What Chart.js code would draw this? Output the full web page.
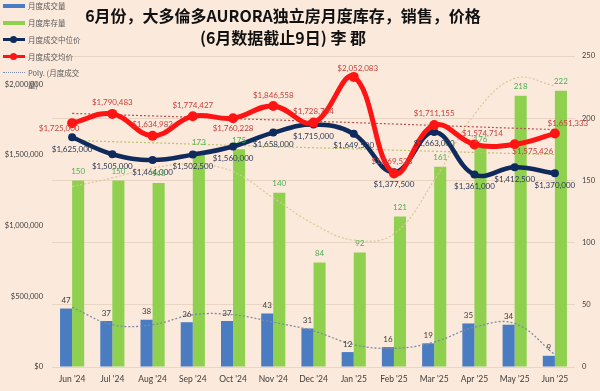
<!DOCTYPE html>
<html>
<head>
<meta charset="utf-8">
<script src="https://cdn.jsdelivr.net/npm/chart.js@4.4.1/dist/chart.umd.min.js"></script>
<style>
html,body{margin:0;padding:0;background:#fbe9db;}
#wrap{position:relative;width:600px;height:391px;overflow:hidden;background:#fbe9db;}
#c{position:absolute;left:0;top:0;}
#title{position:absolute;left:0;top:4px;width:566px;text-align:center;font-family:"Noto Sans CJK SC","Noto Sans",sans-serif;font-weight:bold;font-size:16px;line-height:22px;color:#111;}
#legend{position:absolute;left:3px;top:0;width:90px;height:95px;font-family:"Noto Sans CJK SC","Noto Sans",sans-serif;font-size:7.5px;line-height:11px;color:#595959;}
.li{position:absolute;left:0;width:90px;}
.sw{position:absolute;left:0;width:22px;}
.tx{position:absolute;left:25px;width:70px;white-space:nowrap;}
.dot{position:absolute;border-radius:50%;}
</style>
</head>
<body>
<div id="wrap">
  <canvas id="c" width="600" height="391"></canvas>
  <div id="title">6月份，大多倫多AURORA独立房月度库存，销售，价格<br>(6月数据截止9日) 李 郡</div>
  <div id="legend"></div>
</div>
<script>
// ---------- data ----------
const categories = ["Jun '24","Jul '24","Aug '24","Sep '24","Oct '24","Nov '24","Dec '24","Jan '25","Feb '25","Mar '25","Apr '25","May '25","Jun '25"];
const salesVolume = [47,37,38,36,37,43,31,12,16,19,35,34,9];
const inventory = [150,150,148,173,175,140,84,92,121,161,176,218,222];
const medianPrice = [1625000,1505000,1464000,1502500,1560000,1658000,1715000,1649500,1377500,1663000,1361000,1412500,1370000];
const avgPrice = [1725000,1790483,1634982,1774427,1760228,1846558,1728734,2052083,1369533,1711155,1574714,1575426,1651333];
// trend lines
const volumeTrend = [48,34,34,42,42,36,29,18,15,20,32,35,10];
const inventoryTrend = [145,152,160,163,157,136,115,102,107,150,203,232,226];
const medianTrend = [1603000,1594000,1586000,1577000,1568000,1560000,1551000,1543000,1534000,1526000,1518000,1510000,1503000];
const avgTrend = [1794000,1785000,1776000,1767000,1757000,1748000,1738000,1729000,1719000,1709000,1699000,1689000,1679000];
const leftTicks = [0,500000,1000000,1500000,2000000];
const rightTicks = [0,50,100,150,200,250];
const seriesNames = ["月度成交量","月度库存量","月度成交中位价","月度成交均价","Poly. (月度成交量)"];

// ---------- styles ----------
const C = {blue:'#4a7cc2', green:'#8fd14f', navy:'#0f2a5c', red:'#ff1414',
  redText:'#c8423f', navyText:'#2c3a57', volText:'#404040', invText:'#4caf50'};
const money = v => '$' + Math.round(v).toLocaleString('en-US');
const lblFont = '8px Lato, "Liberation Sans", sans-serif';

const redOffsets = [[-13,5],[0,-11],[0,-11],[0,-11],[0,10],[0,-11],[0,-11],[4,-8],[-2,-12],[0,-12],[8,-11],[18,7],[13,-10]];
const navyOffsets = categories.map(()=>[0,12]);

const labelPlugin = {
  id:'valueLabels',
  afterDatasetsDraw(chart){
    const ctx = chart.ctx;
    chart.data.datasets.forEach((ds,i)=>{
      const lab = ds.valueLabel; if(!lab) return;
      const meta = chart.getDatasetMeta(i);
      ctx.save();
      ctx.font = lblFont; ctx.fillStyle = lab.color;
      ctx.textAlign='center'; ctx.textBaseline='middle';
      meta.data.forEach((el,j)=>{
        const off = lab.offsets ? lab.offsets[j] : lab.offset;
        ctx.fillText(lab.format(ds.data[j]), el.x + off[0], el.y + off[1]);
      });
      ctx.restore();
    });
  }
};

const chart = new Chart(document.getElementById('c'), {
  data:{
    labels:categories,
    datasets:[
      {type:'line', label:seriesNames[3], data:avgPrice, yAxisID:'yL', order:1,
        borderColor:C.red, backgroundColor:C.red, borderWidth:5, tension:0.4,
        pointRadius:5, pointBorderWidth:0, pointBackgroundColor:C.red,
        valueLabel:{color:C.redText, offsets:redOffsets, format:money}},
      {type:'line', label:seriesNames[2], data:medianPrice, yAxisID:'yL', order:2,
        borderColor:C.navy, backgroundColor:C.navy, borderWidth:4.5, tension:0.4,
        pointRadius:4, pointBorderWidth:0, pointBackgroundColor:C.navy,
        valueLabel:{color:C.navyText, offsets:navyOffsets, format:money}},
      {type:'line', label:seriesNames[4], data:volumeTrend, yAxisID:'yR', order:5,
        borderColor:'#7d8aa6', borderWidth:1.3, borderDash:[2,2], tension:0.4, pointRadius:0},
      {type:'line', label:'inventory trend', data:inventoryTrend, yAxisID:'yR', order:6,
        borderColor:'#d8c898', borderWidth:1.2, borderDash:[2,2], tension:0.4, pointRadius:0},
      {type:'line', label:'median trend', data:medianTrend, yAxisID:'yL', order:6,
        borderColor:'#b9c46a', borderWidth:1.2, borderDash:[2,2], tension:0.4, pointRadius:0},
      {type:'line', label:'avg trend', data:avgTrend, yAxisID:'yL', order:6,
        borderColor:'#b85050', borderWidth:1.2, borderDash:[2,2], tension:0.4, pointRadius:0},
      {type:'bar', label:seriesNames[0], data:salesVolume, yAxisID:'yR', order:10,
        backgroundColor:C.blue, barPercentage:1, categoryPercentage:0.6,
        valueLabel:{color:C.volText, offset:[0,-8], format:v=>String(v)}},
      {type:'bar', label:seriesNames[1], data:inventory, yAxisID:'yR', order:10,
        backgroundColor:C.green, barPercentage:1, categoryPercentage:0.6,
        valueLabel:{color:C.invText, offset:[0,-9], format:v=>String(v)}}
    ]
  },
  options:{
    responsive:false, devicePixelRatio:1, animation:false,
    layout:{padding:{top:56,left:0,right:0,bottom:0}},
    plugins:{legend:{display:false}, title:{display:false}, tooltip:{enabled:false}},
    scales:{
      x:{type:'category', grid:{display:false, drawTicks:false}, border:{display:false},
        ticks:{color:'#404040', font:{family:'Lato', size:8.5}, padding:7, maxRotation:0},
        afterFit(s){ s.height = 24; }},
      yL:{type:'linear', position:'left', min:0, max:2200000,
        grid:{display:false, drawTicks:false}, border:{display:false},
        ticks:{stepSize:500000, color:'#404040', font:{family:'Lato', size:7.5}, padding:9, callback:v=>money(v)},
        afterBuildTicks(s){ s.ticks = leftTicks.map(v=>({value:v})); },
        afterFit(s){ s.width = 52; }},
      yR:{type:'linear', position:'right', min:0, max:250,
        grid:{color:'rgba(170,130,105,0.2)', lineWidth:1, drawTicks:false}, border:{display:false},
        ticks:{stepSize:50, color:'#404040', font:{family:'Lato', size:7.5}, padding:7},
        afterBuildTicks(s){ s.ticks = rightTicks.map(v=>({value:v})); },
        afterFit(s){ s.width = 25; }}
    }
  },
  plugins:[labelPlugin]
});

// ---------- HTML legend built from dataset labels ----------
(function(){
  const lg = document.getElementById('legend');
  const items = [
    {name:seriesNames[0], kind:'bar', color:C.blue},
    {name:seriesNames[1], kind:'bar', color:C.green},
    {name:seriesNames[2], kind:'marker', color:C.navy},
    {name:seriesNames[3], kind:'marker', color:C.red},
    {name:seriesNames[4], kind:'dotted', color:'#7d8aa6'}
  ];
  const ys = [6,23,40,57,73];
  items.forEach((it,i)=>{
    const row = document.createElement('div');
    row.className='li'; row.style.top=(ys[i]-6)+'px'; row.style.height='24px';
    const sw = document.createElement('div'); sw.className='sw';
    if(it.kind==='bar'){ sw.style.top='4px'; sw.style.height='4px'; sw.style.background=it.color; }
    else if(it.kind==='marker'){ sw.style.top='4px'; sw.style.height='3px'; sw.style.background=it.color;
      const d=document.createElement('div'); d.className='dot'; d.style.left='7px'; d.style.top='2px';
      d.style.width='7px'; d.style.height='7px'; d.style.background=it.color; row.appendChild(d); }
    else { sw.style.top='5px'; sw.style.height='0'; sw.style.borderTop='1px dotted '+it.color; }
    row.insertBefore(sw,row.firstChild);
    const tx = document.createElement('div'); tx.className='tx'; tx.style.top='0px';
    if(it.kind==='dotted'){ tx.style.width='55px'; tx.style.whiteSpace='normal'; tx.style.wordBreak='break-all'; tx.style.lineHeight='12px'; }
    tx.textContent = it.name;
    row.appendChild(tx);
    lg.appendChild(row);
  });
})();
</script>
</body>
</html>
